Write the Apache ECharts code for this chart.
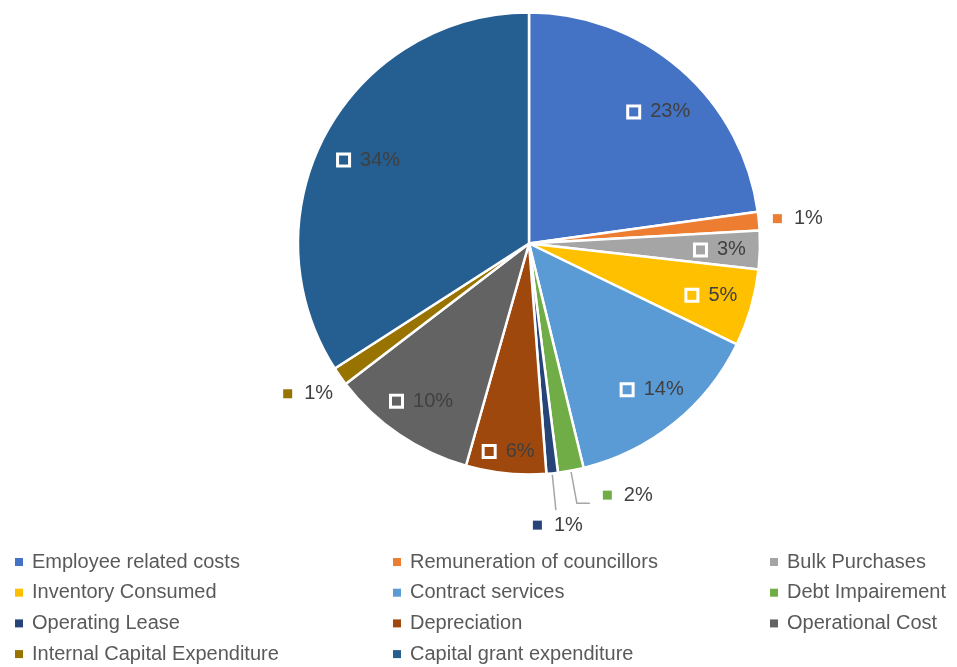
<!DOCTYPE html>
<html>
<head>
<meta charset="utf-8">
<script src="https://cdn.jsdelivr.net/npm/echarts@6/dist/echarts.min.js"></script>
<style>
html,body{margin:0;padding:0;background:#fff;}
#main{width:957px;height:667px;}
</style>
</head>
<body>
<div id="main"></div>
<script>
// ---- data ----
const categories = [
  'Employee related costs', 'Remuneration of councillors', 'Bulk Purchases',
  'Inventory Consumed', 'Contract services', 'Debt Impairement',
  'Operating Lease', 'Depreciation', 'Operational Cost',
  'Internal Capital Expenditure', 'Capital grant expenditure'
];
const values = [22.8, 1.3, 2.7, 5.4, 14.0, 1.8, 0.8, 5.6, 10.2, 1.3, 34.1];
const legendCol1 = ['Employee related costs', 'Inventory Consumed', 'Operating Lease', 'Internal Capital Expenditure'];
const legendCol2 = ['Remuneration of councillors', 'Contract services', 'Depreciation', 'Capital grant expenditure'];
const legendCol3 = ['Bulk Purchases', 'Debt Impairement', 'Operational Cost'];
// slices whose labels sit outside the pie
const outsideLabelled = ['Remuneration of councillors', 'Debt Impairement', 'Operating Lease', 'Internal Capital Expenditure'];

// ---- styles ----
const palette = ['#4472C4', '#ED7D31', '#A5A5A5', '#FFC000', '#5B9BD5', '#70AD47',
                 '#264478', '#9E480E', '#636363', '#997300', '#255E91'];
const FONT = 'Liberation Sans';
const CENTER = [529, 243.5];
const R = 231;

// outside label line settings and nudges (per category)
const outsideCfg = {
  'Remuneration of councillors': {line: false, len: 4, len2: 4, dx: 1, dy: -2},
  'Internal Capital Expenditure': {line: false, len: 6, len2: 4, dx: 7, dy: 14},
  'Debt Impairement': {line: true, len: 33, len2: 13, dx: 8, dy: -8},
  'Operating Lease': {line: true, len: 37, len2: 0, dx: -28, dy: 15}
};
// nudges for the inside labels (best-fit placement)
const insideNudge = {
  'Employee related costs': [4, 14],
  'Capital grant expenditure': [10, 9],
  'Depreciation': [0, 16],
  'Contract services': [3, -4],
  'Operational Cost': [2, -2],
  'Inventory Consumed': [-2, -2],
  'Bulk Purchases': [-1, 1]
};

function rich(color) {
  return {
    box: {width: 9, height: 9, borderColor: '#fff', borderWidth: 3, backgroundColor: color, verticalAlign: 'middle'},
    t: {fontFamily: FONT, fontSize: 20, color: '#404040', padding: [0, 0, 0, 12], verticalAlign: 'middle', lineHeight: 22}
  };
}
function fmt(p) { return '{box|}{t|' + Math.round(p.percent) + '%}'; }

const dataA = categories.map((name, i) => {
  const item = {name: name, value: values[i], itemStyle: {color: palette[i]}};
  const cfg = outsideCfg[name];
  if (cfg) {
    item.label = {show: true, position: 'outside', formatter: fmt, rich: rich(palette[i])};
    item.labelLine = {show: cfg.line, length: cfg.len, length2: cfg.len2,
      lineStyle: {color: '#A6A6A6', width: 1.5}};
  }
  return item;
});
const dataB = categories.map((name, i) => ({
  name: name, value: values[i],
  label: {show: outsideLabelled.indexOf(name) < 0, rich: rich(palette[i])}
}));

const legendBase = {
  orient: 'vertical', top: 552, padding: 0,
  itemWidth: 8, itemHeight: 8, itemGap: 10.7, icon: 'rect',
  selectedMode: false,
  itemStyle: {borderWidth: 0},
  textStyle: {fontFamily: FONT, fontSize: 20, lineHeight: 20, color: '#595959', padding: [0, 0, 0, 4]}
};

const chart = echarts.init(document.getElementById('main'), null, {renderer: 'canvas'});
chart.setOption({
  backgroundColor: '#fff',
  animation: false,
  legend: [
    Object.assign({}, legendBase, {left: 15, data: legendCol1}),
    Object.assign({}, legendBase, {left: 393, data: legendCol2}),
    Object.assign({}, legendBase, {left: 770, data: legendCol3})
  ],
  series: [
    {
      type: 'pie',
      center: CENTER,
      radius: R,
      startAngle: 90,
      clockwise: true,
      avoidLabelOverlap: false,
      silent: true,
      itemStyle: {borderColor: '#fff', borderWidth: 2.5},
      label: {show: false},
      labelLine: {show: false},
      labelLayout: function (p) {
        const cfg = outsideCfg[categories[p.dataIndex]];
        if (!cfg) return {};
        return {dx: cfg.dx, dy: cfg.dy, labelLinePoints: p.labelLinePoints};
      },
      data: dataA
    },
    {
      type: 'pie',
      center: CENTER,
      radius: [R - 82, R],
      startAngle: 90,
      clockwise: true,
      silent: true,
      avoidLabelOverlap: false,
      itemStyle: {color: 'rgba(0,0,0,0)', borderWidth: 0},
      label: {show: true, position: 'inside', formatter: fmt},
      labelLine: {show: false},
      labelLayout: function (p) {
        const n = insideNudge[categories[p.dataIndex]];
        return n ? {dx: n[0], dy: n[1]} : {};
      },
      data: dataB
    }
  ]
});
</script>
</body>
</html>
